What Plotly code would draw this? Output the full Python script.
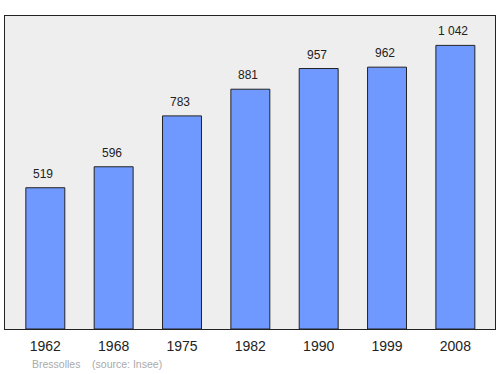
import plotly.graph_objects as go

years = ["1962", "1968", "1975", "1982", "1990", "1999", "2008"]
population = [519, 596, 783, 881, 957, 962, 1042]
labels = ["519", "596", "783", "881", "957", "962", "1 042"]

fig = go.Figure()
fig.add_trace(go.Bar(
    x=years, y=population, width=0.57,
    marker=dict(color="#7099ff", line=dict(color="#222222", width=1)),
    hoverinfo="skip",
))
for i, (y, t) in enumerate(zip(population, labels)):
    fig.add_annotation(x=i, y=y, text=t, showarrow=False, yanchor="bottom", yshift=5, xshift=-2,
                       font=dict(family="Liberation Sans, Arial, sans-serif", size=12, color="#222222"))

fig.add_annotation(xref="paper", yref="paper", x=0.05, y=-0.112, xanchor="left", yanchor="middle",
                   text="Bressolles&nbsp;&nbsp;&nbsp;&nbsp;(source: Insee)", showarrow=False,
                   font=dict(family="Liberation Sans, Arial, sans-serif", size=10.5, color="#aaaaaa"))

fig.update_layout(
    width=500, height=374,
    margin=dict(l=5, r=5, t=16, b=45),
    paper_bgcolor="white", plot_bgcolor="#eeeeee",
    showlegend=False,
    font=dict(family="Liberation Sans, Arial, sans-serif", size=14, color="#222222"),
    xaxis=dict(type="category", range=[-0.59, 6.58], showline=True, mirror=True, linecolor="#222222",
               linewidth=1, ticks="outside", ticklen=4, tickcolor="rgba(0,0,0,0)",
               tickfont=dict(size=14), showgrid=False, fixedrange=True),
    yaxis=dict(range=[0, 1150], showline=True, mirror=True, linecolor="#222222", linewidth=1,
               showticklabels=False, ticks="", showgrid=False, zeroline=False, fixedrange=True),
)
fig.write_html("out.html")
